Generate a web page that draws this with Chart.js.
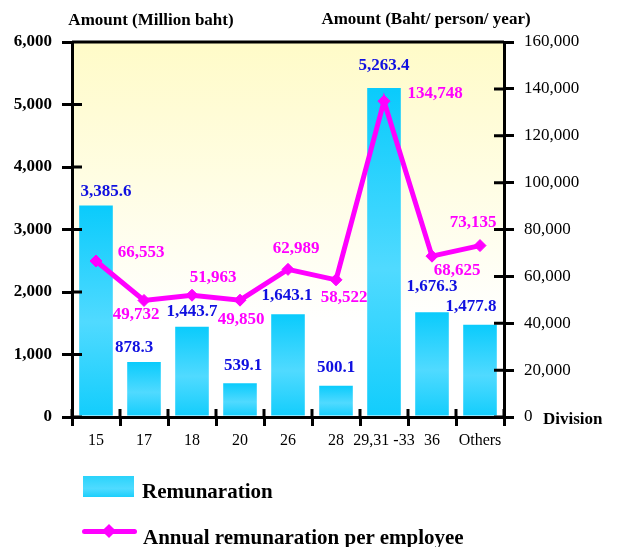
<!DOCTYPE html>
<html>
<head>
<meta charset="utf-8">
<script src="https://cdn.jsdelivr.net/npm/chart.js@4.4.0/dist/chart.umd.min.js"></script>
<style>
    body { margin: 0; background: #fff; }
    #wrap { position: relative; width: 619px; height: 547px; }
    .txt {
        position: absolute;
        font-family: "Liberation Serif", "Times New Roman", serif;
        font-weight: bold;
        color: #000;
        white-space: nowrap;
        line-height: 1;
        transform: translateY(-50%);
    }
    .center { transform: translate(-50%, -50%); }
    #swatchBar {
        position: absolute; left: 83px; top: 476px; width: 51px; height: 21px;
        background: linear-gradient(#2ad3fb, #4fdbff 60%, #1ccffc);
    }
    #swatchLine {
        position: absolute; left: 82px; top: 529px; width: 55px; height: 5px;
        background: #ff00ff; border-radius: 3px;
    }
    #swatchDot {
        position: absolute; left: 104px; top: 526px; width: 10px; height: 10px;
        background: #ff00ff; transform: rotate(45deg);
    }
</style>
</head>
<body>
<div id="wrap">
    <canvas id="remunerationChart" width="619" height="547"></canvas>
    <div class="txt center" style="left:151px; top:19px; font-size:17px;">Amount (Million baht)</div>
    <div class="txt center" style="left:426px; top:18px; font-size:17px;">Amount (Baht/ person/ year)</div>
    <div class="txt" style="left:543px; top:418px; font-size:17px;">Division</div>
    <div id="swatchBar"></div>
    <div class="txt" style="left:142px; top:491px; font-size:21px;">Remunaration</div>
    <div id="swatchLine"></div>
    <div id="swatchDot"></div>
    <div class="txt" style="left:143px; top:537px; font-size:21px;">Annual remunaration per employee</div>
</div>
<script>
// Data
const divisions = ["15", "17", "18", "20", "26", "28", "29,31 -33", "36", "Others"];
const remuneration = [3385.6, 878.3, 1443.7, 539.1, 1643.1, 500.1, 5263.4, 1676.3, 1477.8];
const perEmployee = [66553, 49732, 51963, 49850, 62989, 58522, 134748, 68625, 73135];

// label nudges (px) so the value labels sit where the original has them
const barLabelOffsets = [[10, -14], [-10, -14], [0, -15], [3, -18], [-1, -19], [0, -18], [0, -22], [0, -26], [-9, -18]];
const lineLabelOffsets = [[45, -8], [-8, 14], [21, -18], [1, 19], [8, -21], [8, 18], [51, -8], [25, 14], [-7, -23]];

const colors = {
    bar: "#1acffc",
    line: "#ff00ff",
    barText: "#1010e0",
    axis: "#000000",
};
const serif = "'Liberation Serif', 'Times New Roman', serif";

// yellow-to-white plot background
const plotBackground = {
    id: "plotBackground",
    beforeDraw(chart) {
        const { ctx, chartArea } = chart;
        const g = ctx.createLinearGradient(0, chartArea.top, 0, chartArea.bottom);
        g.addColorStop(0, "#fffbc8");
        g.addColorStop(0.75, "#ffffff");
        ctx.save();
        ctx.fillStyle = g;
        ctx.fillRect(chartArea.left, chartArea.top, chartArea.right - chartArea.left, chartArea.bottom - chartArea.top);
        ctx.restore();
    },
};

// top border + tick marks that cross into the plot area
const frameTicks = {
    id: "frameTicks",
    afterDraw(chart) {
        const { ctx, chartArea, scales } = chart;
        ctx.save();
        ctx.strokeStyle = colors.axis;
        ctx.lineWidth = 3;
        ctx.beginPath();
        ctx.moveTo(chartArea.left, chartArea.top);
        ctx.lineTo(chartArea.right, chartArea.top);
        scales.y.ticks.forEach((t) => {
            const py = scales.y.getPixelForValue(t.value);
            ctx.moveTo(chartArea.left, py);
            ctx.lineTo(chartArea.left + 10, py);
        });
        scales.y1.ticks.forEach((t) => {
            const py = scales.y1.getPixelForValue(t.value);
            ctx.moveTo(chartArea.right - 10, py);
            ctx.lineTo(chartArea.right, py);
        });
        for (let i = 0; i <= divisions.length; i++) {
            const px = scales.x.getPixelForValue(i - 0.5);
            ctx.moveTo(px, chartArea.bottom);
            ctx.lineTo(px, chartArea.bottom - 8);
        }
        ctx.stroke();
        ctx.restore();
    },
};

// value labels
const valueLabels = {
    id: "valueLabels",
    afterDatasetsDraw(chart) {
        const { ctx } = chart;
        ctx.save();
        ctx.font = "bold 17px " + serif;
        ctx.textAlign = "center";
        ctx.textBaseline = "middle";
        chart.getDatasetMeta(0).data.forEach((el, i) => {
            ctx.fillStyle = colors.barText;
            ctx.fillText(
                remuneration[i].toLocaleString("en-US", { minimumFractionDigits: 1 }),
                el.x + barLabelOffsets[i][0],
                el.y + barLabelOffsets[i][1]
            );
        });
        chart.getDatasetMeta(1).data.forEach((el, i) => {
            ctx.fillStyle = colors.line;
            ctx.fillText(
                perEmployee[i].toLocaleString("en-US"),
                el.x + lineLabelOffsets[i][0],
                el.y + lineLabelOffsets[i][1]
            );
        });
        ctx.restore();
    },
};

const ctx = document.getElementById("remunerationChart").getContext("2d");
new Chart(ctx, {
    type: "bar",
    data: {
        labels: divisions,
        datasets: [
            {
                label: "Remunaration",
                data: remuneration,
                yAxisID: "y",
                order: 1,
                barPercentage: 0.7,
                categoryPercentage: 1,
                backgroundColor: function (context) {
                    const chart = context.chart;
                    const { chartArea, scales } = chart;
                    if (!chartArea || context.type !== "data") return colors.bar;
                    const top = scales.y.getPixelForValue(context.raw);
                    const bottom = scales.y.getPixelForValue(0);
                    const g = chart.ctx.createLinearGradient(0, top, 0, bottom);
                    g.addColorStop(0, "#0acbfc");
                    g.addColorStop(0.55, "#50daff");
                    g.addColorStop(1, "#12cdfc");
                    return g;
                },
            },
            {
                type: "line",
                label: "Annual remunaration per employee",
                data: perEmployee,
                yAxisID: "y1",
                order: 0,
                borderColor: colors.line,
                backgroundColor: colors.line,
                borderWidth: 5,
                tension: 0,
                pointStyle: "rectRot",
                pointRadius: 6,
                pointBackgroundColor: colors.line,
                pointBorderColor: colors.line,
                pointBorderWidth: 1,
            },
        ],
    },
    options: {
        responsive: false,
        animation: false,
        layout: {
            padding: { top: 42, left: 0, right: 0, bottom: 0 },
        },
        plugins: {
            legend: { display: false },
            tooltip: { enabled: false },
        },
        scales: {
            x: {
                offset: true,
                grid: {
                    offset: true,
                    drawOnChartArea: false,
                    tickLength: 9,
                    color: colors.axis,
                    lineWidth: 3,
                },
                border: { display: true, color: colors.axis, width: 3 },
                ticks: {
                    color: "#000",
                    padding: 5,
                    maxRotation: 0,
                    autoSkip: false,
                    font: { family: serif, size: 16 },
                },
                afterFit(scale) {
                    scale.height = 130;
                },
            },
            y: {
                position: "left",
                min: 0,
                max: 6000,
                grid: {
                    drawOnChartArea: false,
                    tickLength: 10,
                    color: colors.axis,
                    lineWidth: 3,
                },
                border: { display: true, color: colors.axis, width: 3 },
                ticks: {
                    stepSize: 1000,
                    padding: 10,
                    color: "#000",
                    font: { family: serif, size: 17, weight: "bold" },
                    callback: (v) => v.toLocaleString("en-US"),
                },
                afterFit(scale) {
                    scale.width = 72;
                },
            },
            y1: {
                position: "right",
                min: 0,
                max: 160000,
                grid: {
                    drawOnChartArea: false,
                    tickLength: 10,
                    color: colors.axis,
                    lineWidth: 3,
                },
                border: { display: true, color: colors.axis, width: 3 },
                ticks: {
                    stepSize: 20000,
                    padding: 10,
                    color: "#000",
                    font: { family: serif, size: 17 },
                    callback: (v) => v.toLocaleString("en-US"),
                },
                afterFit(scale) {
                    scale.width = 115;
                },
            },
        },
    },
    plugins: [plotBackground, frameTicks, valueLabels],
});
</script>
</body>
</html>
